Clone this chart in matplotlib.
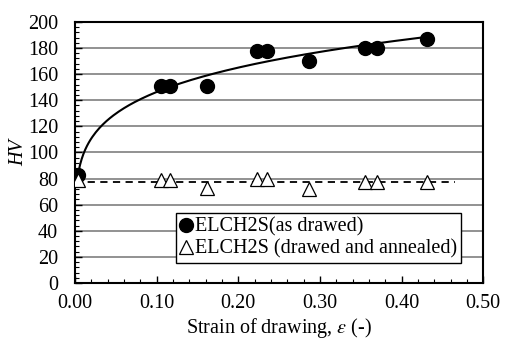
import numpy as np
import matplotlib.pyplot as plt
from matplotlib.ticker import MultipleLocator

plt.rcParams['font.family'] = ['Liberation Serif', 'DejaVu Serif']
plt.rcParams['mathtext.fontset'] = 'stix'

# Hardness vs. drawing strain
strain = np.array([0.004, 0.105, 0.116, 0.162, 0.223, 0.235, 0.287, 0.355, 0.370, 0.431])
hv_drawn = np.array([83, 151, 151, 151, 178, 178, 170, 180, 180, 187])
hv_annealed = np.array([79, 79, 79, 73, 80, 80, 72, 77, 77, 77])

# power-law trend (as drawn) and mean level (annealed)
b, log_a = np.polyfit(np.log(strain), np.log(hv_drawn), 1)
xs = np.linspace(strain.min(), strain.max() + 0.003, 200)
power_fit = np.exp(log_a) * xs ** b

xl = np.array([0.0, 0.465])
lin_fit = np.full_like(xl, hv_annealed.mean())

fig = plt.figure(figsize=(5.06, 3.43), dpi=100)
ax = fig.add_axes([0.148, 0.175, 0.807, 0.761])

for yv in range(20, 200, 20):
    ax.axhline(yv, color='#7f7f7f', lw=1.2, zorder=0)

ax.plot(xs, power_fit, color='black', lw=1.5, zorder=2)
ax.plot(xl, lin_fit, color='black', lw=1.3, ls=(0, (4, 3)), zorder=2)
ax.plot(strain, hv_drawn, 'o', color='black', ms=10, ls='none',
        label='ELCH2S(as drawed)', zorder=3)
ax.plot(strain, hv_annealed, '^', mfc='white', mec='black', mew=0.9, ms=9.5,
        ls='none', label='ELCH2S (drawed and annealed)', zorder=3)

ax.set_xlim(0, 0.5)
ax.set_ylim(0, 200)
ax.xaxis.set_major_locator(MultipleLocator(0.1))
ax.xaxis.set_minor_locator(MultipleLocator(0.02))
ax.yaxis.set_major_locator(MultipleLocator(20))
ax.yaxis.set_minor_locator(MultipleLocator(4))
ax.xaxis.set_major_formatter(plt.FuncFormatter(lambda v, p: f"{v:.2f}"))
ax.tick_params(which='both', direction='in', labelsize=14.5, color='black')
ax.tick_params(which='major', length=5, width=1)
ax.tick_params(which='minor', length=3, width=0.8)
ax.tick_params(axis='x', pad=8)
ax.tick_params(axis='y', pad=12)

for s in ax.spines.values():
    s.set_linewidth(1.5)

ax.set_xlabel(r'Strain of drawing, $\varepsilon$ (-)', fontsize=14.5, labelpad=2)
ax.set_ylabel('HV', fontsize=14.5, style='italic', labelpad=0)

leg = ax.legend(loc='lower right', bbox_to_anchor=(0.946, 0.077), borderaxespad=0,
                fontsize=14.5, frameon=True, fancybox=False, edgecolor='black',
                framealpha=1, handlelength=0.6, handletextpad=0.15,
                borderpad=0.2, labelspacing=0.15)
leg.get_frame().set_linewidth(1.0)

fig.savefig('out.png', dpi=100)
